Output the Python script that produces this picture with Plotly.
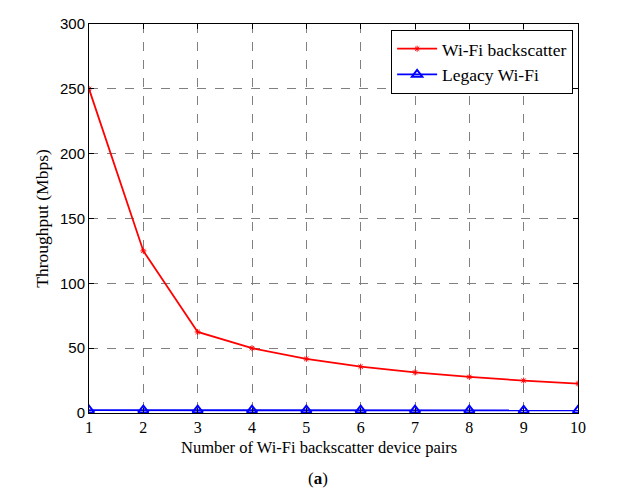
import plotly.graph_objects as go

pairs = [1, 2, 3, 4, 5, 6, 7, 8, 9, 10]
wifi_backscatter = [250, 125, 62.5, 50, 41.7, 35.7, 31.3, 27.8, 25, 22.7]
legacy_wifi = [2.2, 2.2, 2.2, 2.2, 2.2, 2.2, 2.2, 2.2, 2.0, 2.0]
x_ticks = [1, 2, 3, 4, 5, 6, 7, 8, 9, 10]
y_ticks = [0, 50, 100, 150, 200, 250, 300]

serif = "Liberation Serif"

fig = go.Figure()
fig.add_trace(go.Scatter(
    x=pairs, y=wifi_backscatter, name="Wi-Fi backscatter",
    mode="lines+markers",
    line=dict(color="#ff0000", width=1.8),
    marker=dict(symbol="asterisk", size=5, line=dict(color="#ff0000", width=1)),
))
fig.add_trace(go.Scatter(
    x=pairs, y=legacy_wifi, name="Legacy Wi-Fi",
    mode="lines+markers",
    line=dict(color="#0000ff", width=1.8),
    marker=dict(symbol="triangle-up-open", size=9, color="#0000ff",
                line=dict(color="#0000ff", width=2)),
))

axis_common = dict(
    showline=True, linecolor="black", linewidth=1, mirror="ticks",
    ticks="inside", ticklen=5, tickcolor="black",
    showgrid=True, gridcolor="#808080", griddash="dash", gridwidth=1,
    zeroline=False,
)

fig.update_layout(
    width=641, height=498,
    margin=dict(l=89, r=63, t=24, b=85),
    paper_bgcolor="white", plot_bgcolor="white",
    font=dict(family=serif, size=16, color="black"),
    xaxis=dict(range=[1, 10], tickvals=x_ticks,
               tickfont=dict(family=serif, size=16),
               **axis_common),
    yaxis=dict(range=[0, 300], tickvals=y_ticks,
               title=dict(text="Throughput (Mbps)", standoff=6,
                          font=dict(family=serif, size=17.5)),
               tickfont=dict(family="Liberation Sans", size=15),
               **axis_common),
    legend=dict(x=0.99, y=0.985, xanchor="right", yanchor="top",
                bgcolor="white", bordercolor="black", borderwidth=1,
                font=dict(family=serif, size=17.5),
                tracegroupgap=0, itemwidth=40),
    showlegend=True,
)

fig.add_annotation(text="Number of Wi-Fi backscatter device pairs",
                   xref="paper", yref="paper", x=0.471, y=-0.089,
                   showarrow=False, yanchor="middle",
                   font=dict(family=serif, size=16.5))
fig.add_annotation(text="(<b>a</b>)", xref="paper", yref="paper",
                   x=0.468, y=-0.168, showarrow=False, yanchor="middle",
                   font=dict(family=serif, size=17))

fig.write_html("out.html")
